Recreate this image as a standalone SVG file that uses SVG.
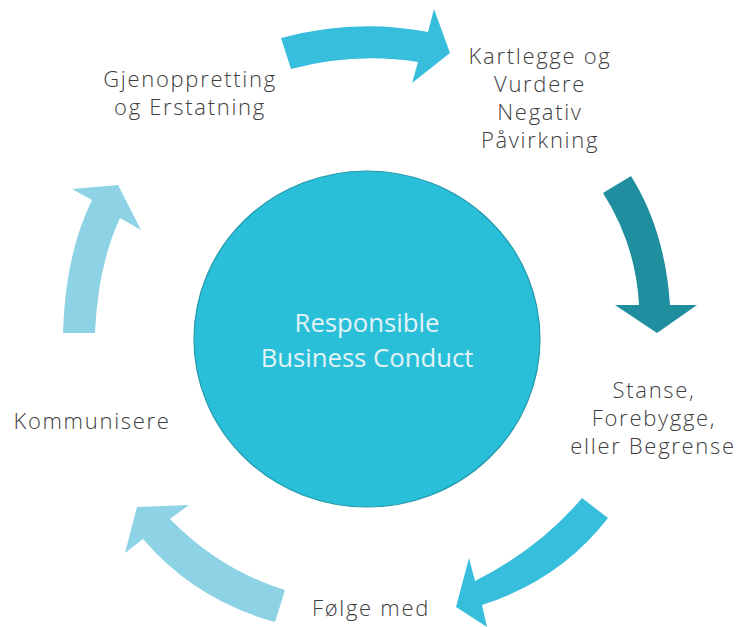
<svg xmlns="http://www.w3.org/2000/svg" width="739" height="627" viewBox="0 0 739 627">
<style>
.lbl{font-family:"Open Sans","Liberation Sans",sans-serif;font-size:22px;font-weight:300;letter-spacing:1.7px;fill:#404040;text-anchor:middle}
.ctr{font-family:"Open Sans","Liberation Sans",sans-serif;font-size:25.7px;fill:#E3F3F6;text-anchor:middle}
.a1{fill:#37BEDC}
.a2{fill:#1F8FA0}
.a3{fill:#8DD3E5}
</style>
<rect width="739" height="627" fill="#ffffff"/>
<g id="connectors">
<path class="a1" d="M281,38 Q355,18 428,32 L434,9 L450,53 L412,83 L418,62 Q355,52 291,69 Z"/>
<path class="a2" d="M603,193 L631,176 Q665,230 670,305 L697,305 L657,333 L615,305 L639,305 Q636,245 603,193 Z"/>
<path class="a1" d="M582,498 L608,518 Q560,580 482,605 L487,627 L456,607 L469,558 L475,581 Q540,548 582,498 Z"/>
<path class="a3" d="M285,590 Q220,570 170,519 L189,505 L137,507 L125,553 L143,539 Q195,600 275,622 Z"/>
<path class="a3" d="M63,333 Q65,255 92,200 L72,189 L118,185 L141,230 L120,218 Q98,265 95,333 Z"/>
</g>
<g id="center">
<ellipse cx="367" cy="339" rx="173" ry="168" fill="#29BFD9" stroke="#2599AB" stroke-width="1.2"/>
<text class="ctr" x="367" y="332">Responsible</text>
<text class="ctr" x="367" y="367">Business Conduct</text>
</g>
<g id="kartlegge">
<text class="lbl" x="540" y="64">Kartlegge og</text>
<text class="lbl" x="540" y="92">Vurdere</text>
<text class="lbl" x="540" y="120">Negativ</text>
<text class="lbl" x="540" y="148">Påvirkning</text>
</g>
<g id="stanse">
<text class="lbl" x="654" y="398">Stanse,</text>
<text class="lbl" x="654" y="426">Forebygge,</text>
<text class="lbl" x="653" y="454">eller Begrense</text>
</g>
<g id="folge">
<text class="lbl" x="371" y="616">Følge med</text>
</g>
<g id="kommunisere">
<text class="lbl" x="92" y="429">Kommunisere</text>
</g>
<g id="gjenoppretting">
<text class="lbl" x="190" y="87">Gjenoppretting</text>
<text class="lbl" x="190" y="115">og Erstatning</text>
</g>
</svg>
